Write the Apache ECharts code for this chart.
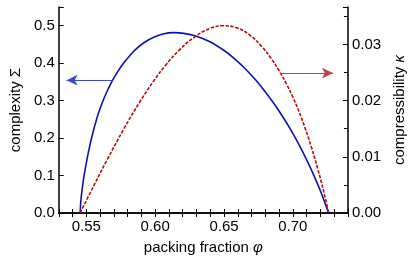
<!DOCTYPE html>
<html>
<head>
<meta charset="utf-8">
<script src="https://cdn.jsdelivr.net/npm/echarts@6/dist/echarts.min.js"></script>
<style>
html,body{margin:0;padding:0;background:#fff;}
#c{width:415px;height:260px;}
</style>
</head>
<body>
<div id="c"></div>
<script>
// packing fraction φ and complexity Σ (left axis)
const phiSigma = [0.54556,0.54583,0.54623,0.54691,0.54825,0.55061,0.55384,0.55789,0.56193,0.56529,0.56866,0.57203,0.57607,0.58213,0.58752,0.59291,0.59897,0.60571,0.61359,0.62086,0.62813,0.63938,0.65063,0.65959,0.66632,0.67306,0.67979,0.68653,0.69326,0.70000,0.70674,0.71347,0.72020,0.72593];
const sigma    = [0,      0.0214, 0.0391, 0.0613, 0.0964, 0.1452, 0.2001, 0.2555, 0.2977, 0.3263, 0.3512, 0.3727, 0.3950, 0.4227, 0.4420, 0.4572, 0.4695, 0.4781, 0.4815, 0.4796, 0.4740, 0.4580, 0.4325, 0.4057, 0.3819, 0.3549, 0.3246, 0.2908, 0.2536, 0.2126, 0.1666, 0.1152, 0.0576, 0];
// packing fraction φ and compressibility κ (right axis)
const phiKappa = [0.54556,0.55519,0.56529,0.57708,0.58887,0.59897,0.60793,0.61695,0.62813,0.63938,0.64949,0.65959,0.66855,0.67757,0.68431,0.68990,0.69549,0.70000,0.70451,0.70896,0.71347,0.71798,0.72243,0.72607];
const kappa    = [0,      0.00474,0.00955,0.01488,0.01978,0.02352,0.02640,0.02886,0.03123,0.03281,0.03334,0.03294,0.03171,0.02960,0.02749,0.02537,0.02291,0.02065,0.01803,0.01509,0.01174,0.00798,0.00381,0];
// annotation arrows [from, to] in data coordinates
const arrowSigma = [[0.5692,0.3546],[0.53566,0.3546]];
const arrowKappa = [[0.6905,0.0249],[0.7292,0.0249]];
// axis ranges
const xRange = [0.53,0.74];
const sigmaMax = 0.55;
const kappaMax = 0.55/15;

const FONT = 'Liberation Sans, Arial, Helvetica, sans-serif';
const isMult = (v, step) => Math.abs(v/step - Math.round(v/step)) < 1e-6;
const axisLineStyle = {color:'#000', width:1.5};

const chart = echarts.init(document.getElementById('c'), null, {renderer:'canvas'});
chart.setOption({
  animation:false,
  backgroundColor:'#fff',
  grid:{left:48, right:57, top:7, bottom:47},
  xAxis:[{
    type:'value', position:'bottom', min:xRange[0], max:xRange[1], interval:0.01,
    name:'packing fraction {i|φ}', nameLocation:'middle', nameGap:27,
    nameTextStyle:{fontFamily:FONT, fontSize:15, color:'#000', rich:{i:{fontStyle:'italic', fontFamily:FONT, fontSize:15, color:'#000'}}},
    axisLine:{lineStyle:axisLineStyle},
    axisTick:{inside:true, length:4, lineStyle:{color:'#000', width:1}},
    axisLabel:{fontFamily:FONT, fontSize:15, color:'#000', margin:6,
      formatter:v => isMult(v,0.05) ? v.toFixed(2) : ''},
    splitLine:{show:false}
  },{
    type:'value', position:'top', min:xRange[0], max:xRange[1], interval:0.01,
    axisLine:{lineStyle:axisLineStyle},
    axisTick:{inside:true, length:4, lineStyle:{color:'#000', width:1}},
    axisLabel:{show:false}, splitLine:{show:false}
  }],
  yAxis:[{
    type:'value', position:'left', min:0, max:sigmaMax, interval:0.1,
    name:'complexity Σ', nameLocation:'middle', nameGap:28, nameRotate:90,
    nameTextStyle:{fontFamily:FONT, fontSize:15, color:'#000'},
    axisLine:{show:true, lineStyle:axisLineStyle},
    axisTick:{show:true, inside:true, length:5, lineStyle:{color:'#000', width:1}},
    axisLabel:{fontFamily:FONT, fontSize:15, color:'#000', margin:4,
      formatter:v => isMult(v,0.1) ? v.toFixed(1) : ''},
    splitLine:{show:false}
  },{
    type:'value', position:'right', min:0, max:kappaMax, interval:0.01,
    name:'compressibility {i|κ}', nameLocation:'middle', nameGap:41, nameRotate:90,
    nameTextStyle:{fontFamily:FONT, fontSize:15, color:'#000', rich:{i:{fontStyle:'italic', fontFamily:FONT, fontSize:15, color:'#000'}}},
    axisLine:{show:true, lineStyle:axisLineStyle},
    axisTick:{show:true, inside:true, length:5, lineStyle:{color:'#000', width:1}},
    minorTick:{show:true, splitNumber:2, length:4, lineStyle:{color:'#000', width:1}},
    axisLabel:{fontFamily:FONT, fontSize:15, color:'#000', margin:4,
      formatter:v => isMult(v,0.01) ? v.toFixed(2) : ''},
    splitLine:{show:false}
  }],
  series:[{
    type:'line', xAxisIndex:0, yAxisIndex:0,
    data: phiSigma.map((x,i)=>[x, sigma[i]]),
    smooth:0.4, showSymbol:false, symbol:'none',
    lineStyle:{color:'#0c14a8', width:1.6},
    markLine:{silent:true, symbol:['none','arrow'], symbolSize:[8,11],
      label:{show:false}, lineStyle:{color:'#3a48cc', width:1, type:'solid'},
      data:[[{coord:arrowSigma[0]},{coord:arrowSigma[1]}]]}
  },{
    type:'line', xAxisIndex:0, yAxisIndex:1,
    data: phiKappa.map((x,i)=>[x, kappa[i]]),
    smooth:0.4, showSymbol:false, symbol:'none',
    lineStyle:{color:'#b01010', width:1.6, type:[3.5,1.5]},
    markLine:{silent:true, symbol:['none','arrow'], symbolSize:[8,11],
      label:{show:false}, lineStyle:{color:'#c84040', width:1, type:'solid'},
      data:[[{coord:arrowKappa[0]},{coord:arrowKappa[1]}]]}
  }]
});
</script>
</body>
</html>
